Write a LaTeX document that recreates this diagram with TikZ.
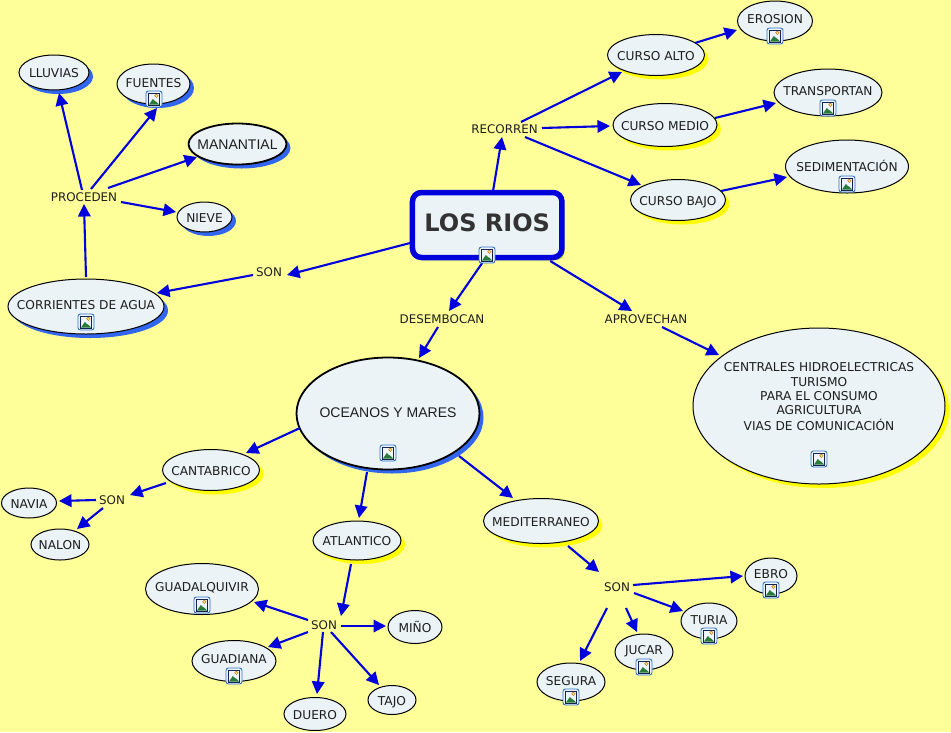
\documentclass[tikz,border=0pt]{standalone}
\usepackage{fontspec}
\setmainfont{DejaVu Sans}
\newfontfamily\bigfont{Liberation Sans}
\usetikzlibrary{shapes.geometric,shadows,arrows.meta}
\definecolor{bgc}{HTML}{FFFF99}
\definecolor{nodec}{HTML}{EBF3F7}
\definecolor{arrowc}{HTML}{0000DD}
\definecolor{bshadow}{HTML}{3366EE}
\definecolor{yshadow}{HTML}{FFFF00}
\definecolor{txtc}{HTML}{1E1E1E}
\definecolor{iconedge}{HTML}{2F74C8}
\definecolor{iconin}{HTML}{EDF4FC}
\definecolor{iconframe}{HTML}{14244E}
\definecolor{hill}{HTML}{2A7A3A}
\definecolor{sunc}{HTML}{FFE46A}
\tikzset{
  concept/.style={ellipse,draw=black,line width=1pt,fill=nodec,inner sep=0pt,text=txtc,font=\fontsize{12.2}{14.3}\selectfont},
  bigtext/.style={font=\bigfont\fontsize{14}{16}\selectfont},
  bs/.style={copy shadow={shadow xshift=4pt,shadow yshift=-4pt,fill=bshadow,draw=none,opacity=1}},
  ys/.style={copy shadow={shadow xshift=4pt,shadow yshift=-4pt,fill=yshadow,draw=none,opacity=1}},
  sz/.style 2 args={minimum width=#1*2pt,minimum height=#2*2pt},
  linkw/.style={rectangle,inner sep=0pt,text=black!88,font=\fontsize{11.9}{14}\selectfont},
  conn/.style={arrowc,line width=2.1pt,-{Triangle[length=12.5pt,width=12.5pt]}},
  imgbox/.pic={
    \draw[draw=iconedge,line width=0.9pt,fill=iconin,rounded corners=2.5pt] (-8,-8) rectangle (8,8);
    \draw[draw=iconframe,line width=1pt,fill=iconin] (-5.5,-6) rectangle (5.5,6);
    \fill[sunc,draw=orange!70!black,line width=0.3pt] (2.4,-3.2) circle (1.8);
    \fill[hill] (-5,5.5) -- (-1.2,0) -- (1,2) -- (2.4,2.8) -- (5,5.5) -- cycle;
  }
}
% text of a concept: a box of no size, its middle #1 px below the centre of the node
\newcommand{\cl}[2]{\makebox[0pt]{\raisebox{\dimexpr-5.2pt-#1pt\relax}[0pt][0pt]{#2}}}
\newcommand{\iconat}[2]{\pic at (#1,#2) {imgbox};}
% connector: node, offset of the start from its centre, node, offset of the tip from its centre
\newcommand{\cn}[4]{\draw[conn] ([shift={(#2)}]#1.center) -- ([shift={(#4)}]#3.center);}
\begin{document}
\begin{tikzpicture}[x=1pt,y=-1pt]
\useasboundingbox[fill=bgc] (0,0) rectangle (951,732);
% concepts
\node[rectangle,rounded corners=9pt,draw=arrowc,line width=5.5pt,fill=nodec,minimum width=149.5pt,minimum height=65pt,copy shadow={shadow xshift=2.5pt,shadow yshift=-2.5pt,fill=yshadow!70!green!80!black,draw=none,opacity=1},text=black!80,font=\fontsize{24}{26}\bfseries\selectfont] (rios) at (487.2,225) {\cl{1.7}{LOS RIOS}};
\node[concept,ys,sz={48.5}{20.5}] (alto) at (656,55) {\cl{0}{CURSO ALTO}};
\node[concept,sz={37.5}{20}] (erosion) at (775,21) {\cl{-3}{EROSION}};
\node[concept,ys,sz={52}{21.5}] (medio) at (665,125) {\cl{0}{CURSO MEDIO}};
\node[concept,sz={54}{23.5}] (transp) at (828,92.5) {\cl{-2}{TRANSPORTAN}};
\node[concept,ys,sz={47.5}{20.5}] (bajo) at (678,200) {\cl{0}{CURSO BAJO}};
\node[concept,sz={61.5}{26.5}] (sedim) at (847,166.5) {\cl{-0.5}{SEDIMENTACIÓN}};
\node[concept,bs,sz={35}{17.5}] (lluvias) at (54,72.5) {\cl{0}{LLUVIAS}};
\node[concept,bs,sz={36.5}{20}] (fuentes) at (153.5,84) {\cl{-2}{FUENTES}};
\node[concept,bs,line width=1.8pt,sz={49}{20.5},bigtext] (manantial) at (237.5,144) {\cl{0}{MANANTIAL}};
\node[concept,bs,sz={27.5}{15}] (nieve) at (204.5,217) {\cl{0}{NIEVE}};
\node[concept,bs,sz={78}{27.5}] (corrientes) at (86,306.5) {\cl{-2}{CORRIENTES DE AGUA}};
\node[concept,bs,line width=1.8pt,sz={91.5}{56},bigtext] (oceanos) at (388,413.5) {\cl{-1.5}{OCEANOS Y MARES}};
\node[concept,ys,sz={126}{78}] (centrales) at (819,406) {\cl{-10}{\begin{tabular}{@{}c@{}}CENTRALES HIDROELECTRICAS\\TURISMO\\PARA EL CONSUMO\\AGRICULTURA\\VIAS DE COMUNICACIÓN\end{tabular}}};
\node[concept,ys,sz={48.5}{20.5}] (cantabrico) at (211,470) {\cl{0}{CANTABRICO}};
\node[concept,sz={27.5}{15}] (navia) at (29,503) {\cl{0}{NAVIA}};
\node[concept,sz={29}{15.5}] (nalon) at (60,544.5) {\cl{0}{NALON}};
\node[concept,ys,sz={44}{19.5}] (atlantico) at (357,540.5) {\cl{0}{ATLANTICO}};
\node[concept,ys,sz={57.5}{22.5}] (medit) at (541,521) {\cl{0}{MEDITERRANEO}};
\node[concept,sz={56.5}{25.5}] (gquiv) at (202,589) {\cl{-3}{GUADALQUIVIR}};
\node[concept,sz={42}{20.5}] (gdiana) at (234,661) {\cl{-3}{GUADIANA}};
\node[concept,sz={31}{16.5}] (duero) at (315,714) {\cl{0}{DUERO}};
\node[concept,sz={24}{14.5}] (tajo) at (392,700) {\cl{0}{TAJO}};
\node[concept,sz={27}{16.5}] (mino) at (415,627) {\cl{0}{MIÑO}};
\node[concept,sz={34}{19}] (segura) at (571,682) {\cl{-2}{SEGURA}};
\node[concept,sz={29}{18}] (jucar) at (644,652) {\cl{-3}{JUCAR}};
\node[concept,sz={28}{18}] (turia) at (709,621) {\cl{-2}{TURIA}};
\node[concept,sz={26}{18}] (ebro) at (771,576) {\cl{-3}{EBRO}};
% linking words
\node[linkw] (recorren) at (504.5,128.7) {RECORREN};
\node[linkw] (son1) at (269,271.7) {SON};
\node[linkw] (desemb) at (442,318.7) {DESEMBOCAN};
\node[linkw] (aprov) at (646,318.7) {APROVECHAN};
\node[linkw] (proceden) at (84,196.7) {PROCEDEN};
\node[linkw] (son2) at (112,500.2) {SON};
\node[linkw] (son3) at (324,624.7) {SON};
\node[linkw] (son4) at (617,587.2) {SON};
% connectors
\cn{rios}{6,-35}{recorren}{-2.5,8.3}
\cn{recorren}{16.5,-6.7}{alto}{-34,17}
\cn{recorren}{37.5,-0.7}{medio}{-55,1}
\cn{recorren}{20.5,8.3}{bajo}{-37,-15}
\cn{alto}{39,-12}{erosion}{-38,9}
\cn{medio}{50,-7}{transp}{-52,10.5}
\cn{bajo}{43,-9}{sedim}{-60,10.5}
\cn{rios}{-77,18}{son1}{18,3.3}
\cn{son1}{-16,3.3}{corrientes}{71,-13.5}
\cn{corrientes}{0,-29.5}{proceden}{0,7.3}
\cn{proceden}{-2,-6.7}{lluvias}{5,20.5}
\cn{proceden}{7,-7.7}{fuentes}{3.5,24}
\cn{proceden}{24,-8.7}{manantial}{-40.5,13}
\cn{proceden}{37,5.3}{nieve}{-28.5,-5}
\cn{rios}{-5,38}{desemb}{7,-7.7}
\cn{desemb}{-4,8.3}{oceanos}{31,-55.5}
\cn{rios}{63,36}{aprov}{-14,-7.7}
\cn{aprov}{16,8.3}{centrales}{-100,-51}
\cn{oceanos}{-88,14.5}{cantabrico}{35,-17}
\cn{oceanos}{-21,58.5}{atlantico}{2,-22.5}
\cn{oceanos}{71,42.5}{medit}{-28,-23}
\cn{cantabrico}{-45,13}{son2}{18,-5.2}
\cn{son2}{-16,-0.2}{navia}{30,-2}
\cn{son2}{-9,7.8}{nalon}{17,-15.5}
\cn{atlantico}{-6,23.5}{son3}{17,-8.7}
\cn{son3}{-16,-4.7}{gquiv}{52,13}
\cn{son3}{-16,7.3}{gdiana}{34,-14}
\cn{son3}{-1,7.3}{duero}{2,-20}
\cn{son3}{7,7.3}{tajo}{-13,-15}
\cn{son3}{17,1.3}{mino}{-29,-1}
\cn{medit}{27,25}{son4}{-18,-15.2}
\cn{son4}{16,-2.2}{ebro}{-28,0}
\cn{son4}{17,5.8}{turia}{-26,-10}
\cn{son4}{9,20.8}{jucar}{-7,-20}
\cn{son4}{-10,20.8}{segura}{9,-21}
% image icons
\iconat{487}{255}\iconat{775}{36}\iconat{828}{108}\iconat{847}{184}
\iconat{154}{99}\iconat{86}{322}\iconat{388}{453}\iconat{819}{459}
\iconat{202}{605}\iconat{234}{676}\iconat{571}{697}\iconat{644}{667}
\iconat{709}{636}\iconat{771}{590}
\end{tikzpicture}
\end{document}
